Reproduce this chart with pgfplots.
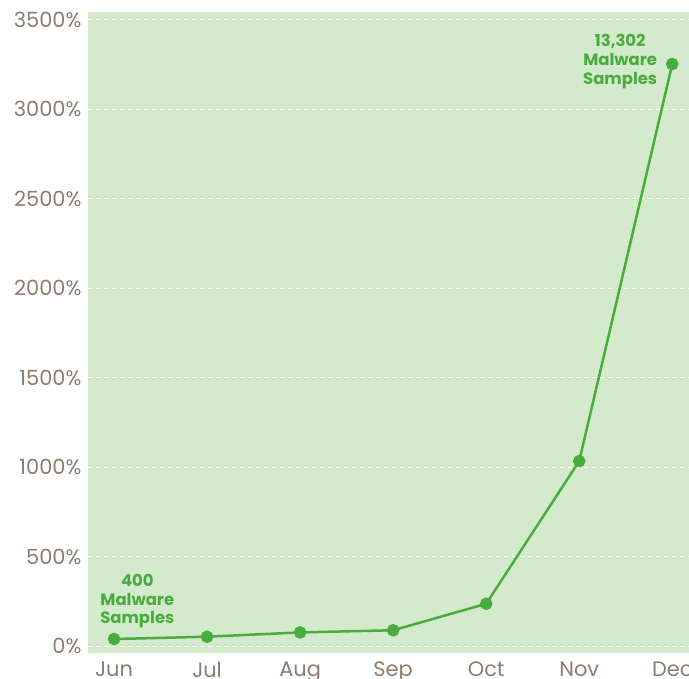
\documentclass[border=0pt]{standalone}
\usepackage{pgfplots}
\pgfplotsset{compat=1.18}
\usepackage{fontspec}
\setmainfont{Poppins}
\definecolor{bggreen}{HTML}{D4EACC}
\definecolor{linegreen}{HTML}{4AAC3F}
\definecolor{ticktext}{HTML}{8C7D6E}
\begin{document}
\begin{tikzpicture}
\begin{axis}[
    scale only axis,
    width=601bp, height=641bp,
    xmin=-0.28, xmax=6.18,
    ymin=-39, ymax=3542,
    axis lines=none,
    axis background/.style={fill=bggreen},
    xtick={0,...,6},
    xticklabels={Jun,Jul,Aug,Sep,Oct,Nov,Dec},
    ytick={0,500,...,3500},
    yticklabels={0\%,500\%,1000\%,1500\%,2000\%,2500\%,3000\%,3500\%},
    ymajorgrids,
    grid style={white, dashed, line width=1bp, dash pattern=on 4bp off 4bp},
    major tick length=0pt,
    tick label style={font=\fontsize{21}{24}\selectfont, text=ticktext},
    yticklabel style={xshift=-3bp},
    xticklabel style={yshift=-5bp},
    hide x axis=false, hide y axis=false,
    axis x line*=bottom, axis y line*=left,
    x axis line style={draw=none}, y axis line style={draw=none},
    clip=false,
]
\addplot[linegreen, line width=2.5bp, mark=*, mark size=5bp,
    mark options={fill=linegreen, draw=linegreen}] coordinates {
    (0,39) (1,52) (2,76) (3,88) (4,236) (5,1033) (6,3251)
};
\node[align=center, text=linegreen, font=\fontsize{16.5}{19}\selectfont\bfseries]
    at (axis cs:0.25,251) {400\\Malware\\Samples};
\node[align=center, text=linegreen, font=\fontsize{16.5}{19}\selectfont\bfseries]
    at (axis cs:5.44,3263) {13,302\\Malware\\Samples};
\end{axis}
\pgfresetboundingbox
\path[use as bounding box] (-88bp,-26bp) rectangle (601bp,653bp);
\end{tikzpicture}
\end{document}
